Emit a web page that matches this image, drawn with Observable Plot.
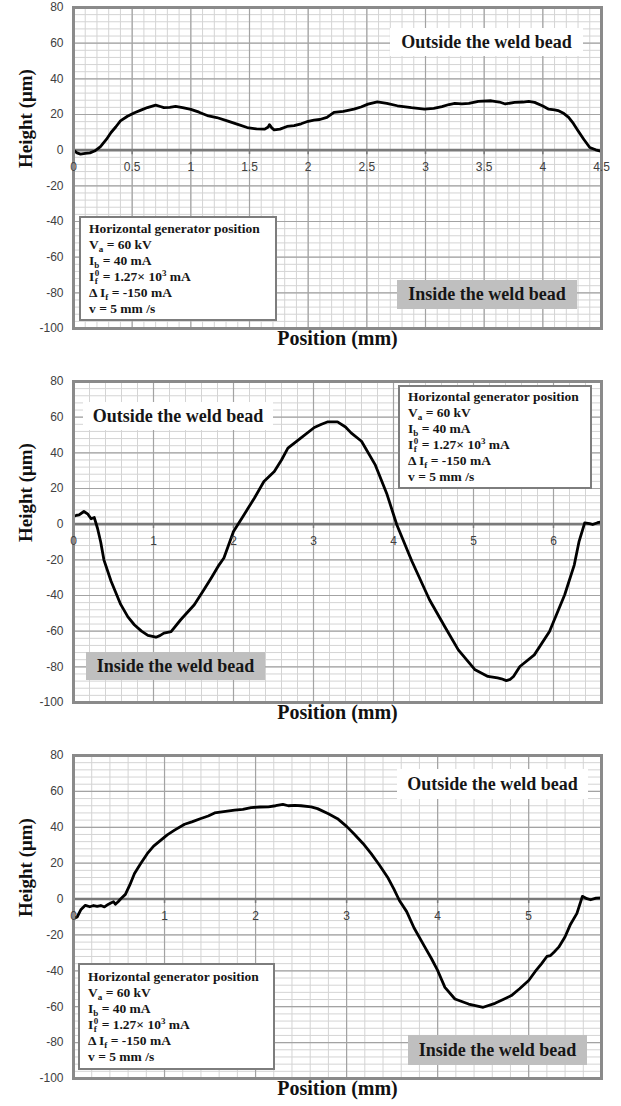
<!DOCTYPE html>
<html>
<head>
<meta charset="utf-8">
<script src="https://cdn.jsdelivr.net/npm/d3@7"></script>
<script src="https://cdn.jsdelivr.net/npm/@observablehq/plot@0.6"></script>
<style>
  body { margin: 0; background: #fff; }
  #wrap { position: relative; width: 621px; height: 1106px; overflow: hidden; }
  .panel { position: absolute; left: 0; width: 621px; }
  .panel svg { display: block; }
  .box {
    position: absolute; box-sizing: border-box;
    font-family: "Liberation Serif", "Times New Roman", serif; font-weight: bold; color: #161616;
  }
  .tag { display: flex; align-items: center; justify-content: center; font-size: 18px; white-space: nowrap; }
  .tag.out { background: #fff; }
  .tag.in { background: #bfbfbf; }
  .settings {
    background: #fff; border: 2.5px solid #7d7d7d; font-size: 13.5px;
    padding-left: 8px; white-space: nowrap;
  }
  .settings > div { height: 16px; line-height: 16px; overflow: visible; }
  .settings sub, .settings sup { font-size: 9px; line-height: 0; }
  .settings sub { vertical-align: -3px; }
  .settings sup { vertical-align: 5px; }
  .stk {
    display: inline-flex; flex-direction: column; font-size: 9px; line-height: 8px;
    vertical-align: 5px; margin-left: 0.5px;
  }
</style>
</head>
<body>
<div id="wrap"></div>
<script>
// Surface profiles across the weld (position in mm, height in µm)
const profileA = [[0,0],[0.03,-1.5],[0.06,-2.2],[0.1,-1.8],[0.14,-1.5],[0.18,-0.5],[0.23,2],[0.28,6],[0.32,9.9],[0.36,13],
  [0.40,16.4],[0.46,19],[0.52,21],[0.58,22.6],[0.63,23.9],[0.70,25.3],[0.74,24.5],[0.77,23.9],[0.82,24.0],[0.87,24.6],
  [0.93,23.9],[1.0,22.9],[1.07,21.3],[1.15,19.2],[1.22,18.3],[1.31,16.4],[1.40,14.5],[1.48,12.7],[1.56,11.9],[1.63,11.8],
  [1.66,13],[1.67,14.3],[1.69,12.5],[1.71,11.4],[1.76,11.8],[1.82,13.3],[1.88,13.8],[1.94,14.8],[2.0,16.2],[2.05,16.8],
  [2.10,17.2],[2.16,18.4],[2.22,21.2],[2.30,21.8],[2.39,23.0],[2.45,24.2],[2.51,25.8],[2.59,27.1],[2.67,26.3],[2.76,24.9],
  [2.88,23.8],[2.99,23.0],[3.07,23.4],[3.14,24.4],[3.20,25.6],[3.25,26.2],[3.31,26.0],[3.37,26.2],[3.45,27.4],[3.56,27.7],
  [3.63,27.0],[3.68,25.9],[3.76,26.8],[3.83,27.0],[3.88,27.4],[3.93,26.8],[4.0,24.8],[4.05,23.0],[4.10,22.6],[4.13,22.2],
  [4.18,20.5],[4.22,18.4],[4.26,15],[4.30,10.9],[4.35,6],[4.40,1.5],[4.45,0.2],[4.5,-0.7]];

const profileB = [[0,4.3],[0.04,5.0],[0.07,5.2],[0.13,7.1],[0.18,5.6],[0.22,3.0],[0.26,3.7],[0.30,-2.3],[0.34,-10],[0.38,-20],
  [0.47,-32],[0.59,-45],[0.68,-52],[0.76,-56.4],[0.85,-60],[0.93,-62.4],[1.03,-63.4],[1.08,-62.5],[1.13,-61.1],[1.22,-60.2],
  [1.34,-53.6],[1.51,-45.2],[1.63,-36.8],[1.72,-30.3],[1.82,-22.8],[1.88,-19],[2.0,-4.1],[2.13,5.2],[2.26,14.5],[2.38,23.9],
  [2.51,29.5],[2.60,36],[2.68,42.6],[2.84,48.2],[3.01,54.2],[3.10,56],[3.18,57.4],[3.30,57.4],[3.40,54.5],[3.47,51.2],
  [3.60,46.5],[3.77,33.4],[3.92,16.6],[4.04,-0.2],[4.23,-20.8],[4.45,-42.4],[4.64,-57.4],[4.81,-70.5],[5.02,-81.7],[5.18,-85.4],
  [5.30,-86.2],[5.35,-86.7],[5.41,-87.7],[5.46,-87],[5.50,-85.4],[5.58,-79.8],[5.76,-73.3],[5.95,-60.2],[6.14,-39.6],[6.26,-22.8],
  [6.32,-9.6],[6.39,0.7],[6.45,0.3],[6.49,-0.2],[6.55,0.8],[6.6,1.3]];

const profileC = [[0,-11],[0.04,-10],[0.08,-6],[0.13,-3.5],[0.18,-4.3],[0.22,-3.6],[0.26,-4.1],[0.30,-3.6],[0.34,-4.4],[0.38,-3.0],
  [0.41,-2.2],[0.44,-1.5],[0.46,-2.9],[0.49,-1.5],[0.52,0.2],[0.57,2.6],[0.62,8],[0.67,14.2],[0.74,20],[0.81,25.3],
  [0.88,29.5],[0.96,32.8],[1.03,35.8],[1.11,38.4],[1.22,41.7],[1.30,43],[1.40,44.9],[1.48,46.3],[1.55,48.0],[1.65,48.7],
  [1.77,49.5],[1.86,50.0],[1.95,51],[2.05,51.3],[2.14,51.4],[2.22,52.0],[2.30,52.8],[2.36,52.0],[2.43,52.2],[2.50,52.0],
  [2.61,51.4],[2.68,50.4],[2.80,47.5],[2.90,44.8],[3.00,40.5],[3.08,36.4],[3.18,31],[3.27,25.3],[3.36,19],[3.45,12.2],
  [3.52,5.5],[3.58,-0.8],[3.66,-7],[3.74,-16],[3.86,-26.8],[3.93,-33],[4.00,-39.8],[4.08,-49.2],[4.19,-55.7],[4.34,-58.5],
  [4.50,-60.3],[4.63,-58.1],[4.72,-56],[4.81,-53.8],[4.90,-50],[5.00,-45.4],[5.07,-40.5],[5.14,-36.1],[5.20,-32],[5.24,-31.5],
  [5.28,-29.5],[5.33,-26.8],[5.40,-21],[5.46,-14],[5.53,-8],[5.59,1.5],[5.64,0.2],[5.68,-0.4],[5.74,0.5],[5.8,0.7]];

// Axis ticks
const yTicks = [-100, -80, -60, -40, -20, 0, 20, 40, 60, 80];
const xTicksA = [0, 0.5, 1, 1.5, 2, 2.5, 3, 3.5, 4, 4.5];
const xTicksB = [0, 1, 2, 3, 4, 5, 6];
const xTicksC = [0, 1, 2, 3, 4, 5];

// Text
const xTitle = "Position (mm)";
const yTitle = "Height (μm)";
const outsideLabel = "Outside the weld bead";
const insideLabel = "Inside the weld bead";
const settingsLines = [
  "Horizontal generator position",
  "V<sub>a</sub> = 60 kV",
  "I<sub>b</sub> = 40 mA",
  "I<span class=\"stk\"><span>0</span><span>f</span></span> = 1.27× 10<sup>3</sup> mA",
  "Δ I<sub>f</sub> = -150 mA",
  "v = 5 mm /s"
];

const serif = "'Liberation Serif', 'Times New Roman', serif";

function profileChart({data, xMax, xTicks, minorX, height, marginTop, marginBottom}) {
  const minorXs = d3.range(0, xMax + 1e-9, minorX).map(v => +v.toFixed(3));
  const minorYs = d3.range(-100, 80.001, 4);
  return Plot.plot({
    width: 621,
    height,
    marginLeft: 73,
    marginRight: 20,
    marginTop,
    marginBottom,
    style: {fontFamily: "'Liberation Sans', Arial, sans-serif", fontSize: "12px", color: "#404040", background: "#fff"},
    x: {domain: [0, xMax], axis: null},
    y: {domain: [-100, 80], ticks: yTicks, tickSize: 0, tickPadding: 10, tickFormat: d => String(d), label: null},
    marks: [
      Plot.ruleX(minorXs, {x: d => d, stroke: "#d4d4d4", strokeWidth: 1}),
      Plot.ruleY(minorYs, {y: d => d, stroke: "#d4d4d4", strokeWidth: 1}),
      Plot.ruleX(xTicks, {x: d => d, stroke: "#a3a3a3", strokeWidth: 1.2}),
      Plot.ruleY(yTicks, {y: d => d, stroke: "#a3a3a3", strokeWidth: 1.2}),
      Plot.ruleY([0], {y: d => d, stroke: "#7a7a7a", strokeWidth: 2.6}),
      Plot.ruleX(xTicks, {x: d => d, y1: () => 0, y2: () => -2.5, stroke: "#7a7a7a", strokeWidth: 1.5}),
      Plot.line(data, {x: d => d[0], y: d => d[1], stroke: "#000", strokeWidth: 2.8, strokeLinejoin: "round", curve: "linear"}),
      Plot.frame({stroke: "#8a8a8a", strokeWidth: 3}),
      Plot.text(xTicks, {x: d => d, y: () => 0, dy: 17, text: d => String(d), fill: "#404040", fontSize: 12}),
      Plot.text([xTitle], {frameAnchor: "bottom", dy: 16, text: d => d, fontFamily: serif, fontWeight: "bold", fontSize: 20, fill: "#111"}),
      Plot.text([yTitle], {frameAnchor: "left", dx: -48, rotate: -90, text: d => d, fontFamily: serif, fontWeight: "bold", fontSize: 19, fill: "#111"})
    ]
  });
}

const panels = [
  {top: 0, chart: {data: profileA, xMax: 4.5, xTicks: xTicksA, minorX: 0.1, height: 360, marginTop: 7, marginBottom: 32},
   out: {left: 390, top: 28, width: 193, height: 28},
   inside: {left: 397, top: 280, width: 180, height: 29},
   settings: {left: 79, top: 216, width: 198, height: 105, pad: 3}},
  {top: 360, chart: {data: profileB, xMax: 6.6, xTicks: xTicksB, minorX: 0.2, height: 370, marginTop: 21, marginBottom: 28},
   out: {left: 83, top: 42, width: 190, height: 28},
   inside: {left: 86, top: 292, width: 179, height: 28},
   settings: {left: 398, top: 25, width: 194, height: 104, pad: 2}},
  {top: 730, chart: {data: profileC, xMax: 5.8, xTicks: xTicksC, minorX: 0.2, height: 376, marginTop: 25, marginBottom: 28},
   out: {left: 397, top: 39, width: 191, height: 30},
   inside: {left: 408, top: 305, width: 179, height: 30},
   settings: {left: 78, top: 233, width: 197, height: 107, pad: 4}}
];

const wrap = document.getElementById("wrap");

function place(el, r) {
  el.style.left = r.left + "px";
  el.style.top = r.top + "px";
  el.style.width = r.width + "px";
  el.style.height = r.height + "px";
}

for (const p of panels) {
  const div = document.createElement("div");
  div.className = "panel";
  div.style.top = p.top + "px";
  div.style.height = p.chart.height + "px";
  div.appendChild(profileChart(p.chart));

  const out = document.createElement("div");
  out.className = "box tag out";
  out.textContent = outsideLabel;
  place(out, p.out);
  div.appendChild(out);

  const ins = document.createElement("div");
  ins.className = "box tag in";
  ins.textContent = insideLabel;
  place(ins, p.inside);
  div.appendChild(ins);

  const set = document.createElement("div");
  set.className = "box settings";
  set.innerHTML = settingsLines.map(s => `<div>${s}</div>`).join("");
  place(set, p.settings);
  set.style.paddingTop = p.settings.pad + "px";
  div.appendChild(set);

  wrap.appendChild(div);
}
</script>
</body>
</html>
